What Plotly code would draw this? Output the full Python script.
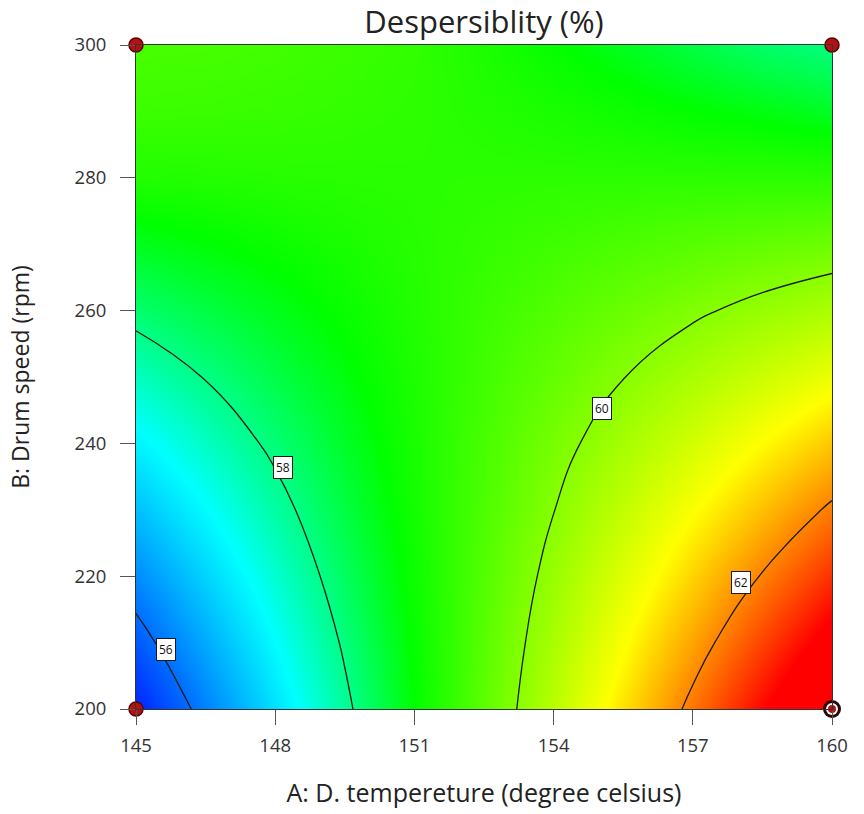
import plotly.graph_objects as go

# ---- data ----
temperature = [145, 146.5, 148, 149.5, 151, 152.5, 154, 155.5, 157, 158.5, 160]   # A: D. tempereture (degree celsius)
drum_speed = [200, 210, 220, 230, 240, 250, 260, 270, 280, 290, 300]            # B: Drum speed (rpm)
# Despersiblity (%) estimated at each grid node; one row per drum_speed value
dispersibility = [
    [55.31, 56.18, 57.04, 57.90, 58.75, 59.60, 60.45, 61.29, 62.13, 62.96, 63.79],
    [55.79, 56.55, 57.31, 58.06, 58.81, 59.56, 60.30, 61.04, 61.77, 62.50, 63.22],
    [56.27, 56.93, 57.58, 58.23, 58.87, 59.51, 60.15, 60.78, 61.41, 62.03, 62.65],
    [56.74, 57.30, 57.84, 58.39, 58.93, 59.46, 59.99, 60.52, 61.05, 61.56, 62.08],
    [57.21, 57.66, 58.10, 58.54, 58.98, 59.41, 59.84, 60.26, 60.68, 61.09, 61.50],
    [57.68, 58.02, 58.36, 58.69, 59.02, 59.35, 59.67, 59.99, 60.30, 60.61, 60.92],
    [58.14, 58.38, 58.61, 58.84, 59.07, 59.29, 59.51, 59.72, 59.93, 60.13, 60.33],
    [58.60, 58.73, 58.86, 58.99, 59.11, 59.22, 59.33, 59.44, 59.55, 59.65, 59.74],
    [59.05, 59.08, 59.11, 59.13, 59.14, 59.15, 59.16, 59.16, 59.16, 59.16, 59.15],
    [59.30, 59.29, 59.26, 59.22, 59.17, 59.08, 58.98, 58.88, 58.77, 58.67, 58.55],
    [59.42, 59.40, 59.36, 59.29, 59.20, 59.00, 58.80, 58.59, 58.38, 58.17, 58.05],
]
contour_start, contour_end, contour_step = 56, 62, 2

label_temp = [145.65, 148.16, 155.05, 158.04]
label_speed = [208.9, 236.4, 245.2, 219.0]
label_text = ["56", "58", "60", "62"]

temp_ticks = [145, 148, 151, 154, 157, 160]
speed_ticks = [200, 220, 240, 260, 280, 300]

design_temp = [145, 145, 160]
design_speed = [200, 300, 300]
highlight_temp = [160]
highlight_speed = [200]

colorscale = [[0.0, "#0000ff"], [0.29, "#00ffff"], [0.47, "#00ff00"],
              [0.76, "#ffff00"], [1.0, "#ff0000"]]

fig = go.Figure()
fig.add_trace(go.Contour(
    x=temperature, y=drum_speed, z=dispersibility,
    colorscale=colorscale, showscale=False,
    contours=dict(start=contour_start, end=contour_end, size=contour_step,
                  coloring="heatmap", showlabels=False),
    line=dict(color="#1a1a1a", width=1.3, smoothing=1.3),
    hoverinfo="skip",
))

fig.add_trace(go.Scatter(
    x=design_temp, y=design_speed, mode="markers", cliponaxis=False,
    marker=dict(size=14, color="#b31212", line=dict(color="#5c0000", width=1.5)),
    hoverinfo="skip", showlegend=False,
))
for size, color in [(18, "#2a0606"), (12, "#ffffff"), (8, "#b31212")]:
    fig.add_trace(go.Scatter(
        x=highlight_temp, y=highlight_speed, mode="markers", cliponaxis=False,
        marker=dict(size=size, color=color, line=dict(width=0)),
        hoverinfo="skip", showlegend=False,
    ))

for tx, ty, tt in zip(label_temp, label_speed, label_text):
    fig.add_annotation(x=tx, y=ty, text=tt, showarrow=False,
                       bgcolor="white", bordercolor="#1a1a1a", borderwidth=1,
                       borderpad=2, font=dict(size=12, color="#111", family="Open Sans"))

axis_common = dict(showgrid=False, zeroline=False, showline=True, linecolor="#333",
                   linewidth=1, mirror=True, ticks="outside", ticklen=15,
                   tickcolor="#555", tickwidth=1,
                   tickfont=dict(size=18.5, color="#333", family="Open Sans"))

fig.update_layout(
    width=864, height=814,
    margin=dict(l=136, r=32, t=45, b=105),
    paper_bgcolor="white", plot_bgcolor="white",
    showlegend=False,
    title=dict(text="Despersiblity (%)", x=0.5, xref="paper", xanchor="center",
               y=1 - 22 / 814, yref="container", yanchor="middle",
               font=dict(size=31, color="#222", family="Open Sans")),
    xaxis=dict(range=[temp_ticks[0], temp_ticks[-1]], tickvals=temp_ticks,
               title=dict(text="A: D. tempereture (degree celsius)", standoff=28,
                          font=dict(size=25, color="#222", family="Open Sans")),
               ticklabelstandoff=5, **axis_common),
    yaxis=dict(range=[speed_ticks[0], speed_ticks[-1]], tickvals=speed_ticks,
               title=dict(text="B: Drum speed (rpm)", standoff=38,
                          font=dict(size=23, color="#222", family="Open Sans")),
               ticklabelstandoff=10, **axis_common),
)

fig.write_html("out.html")
